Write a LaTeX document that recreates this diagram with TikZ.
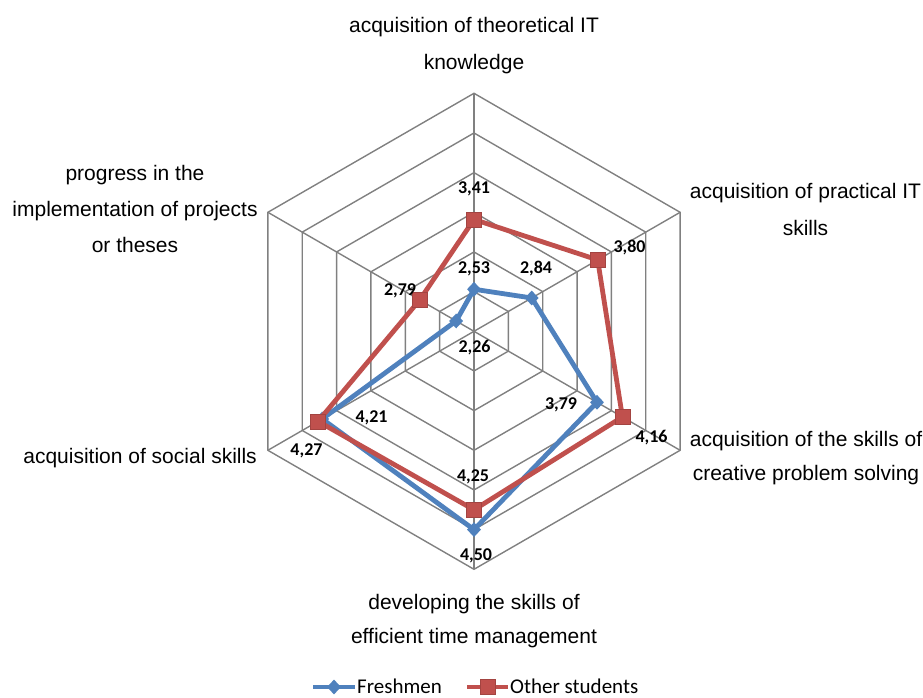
\documentclass[tikz,border=0pt]{standalone}
\usepackage{fontspec}
\setmainfont{Liberation Sans}
\newfontfamily\calib{Carlito}
\usetikzlibrary{shapes.geometric}
\definecolor{fblue}{HTML}{4F81BD}
\definecolor{ored}{HTML}{C0504D}
\definecolor{gridgray}{HTML}{808080}
\begin{document}
\begin{tikzpicture}[x=1pt,y=1pt,
  gridline/.style={draw=gridgray,line width=1.4pt},
  fline/.style={draw=fblue,line width=4.8pt,line join=round},
  oline/.style={draw=ored,line width=4.8pt,line join=round},
  fmark/.style={diamond,fill=fblue,inner sep=0pt,minimum width=14pt,minimum height=15pt},
  omark/.style={rectangle,fill=ored,draw=ored!85!black,line width=0.6pt,inner sep=0pt,minimum size=15pt},
  val/.style={font=\calib\bfseries\fontsize{18}{20}\selectfont,inner sep=0pt},
  cat/.style={font=\fontsize{21}{34}\selectfont,align=center,inner sep=0pt,anchor=base},
  catwide/.style={cat,font=\fontsize{21}{37}\selectfont},
  leg/.style={font=\calib\fontsize{21}{24}\selectfont,inner sep=0pt,anchor=base west}
]
\useasboundingbox (0,0) rectangle (923,697);
\coordinate (c) at (474,365.7);
\begin{scope}[shift={(c)}]
  % grid rings
  \foreach \k in {1,...,6} {
    \draw[gridline] (90:{\k*238/6}) -- (30:{\k*238/6}) -- (-30:{\k*238/6})
      -- (-90:{\k*238/6}) -- (-150:{\k*238/6}) -- (150:{\k*238/6}) -- cycle;
  }
  % outer vertices and spokes
  \coordinate (o) at (0,0);
  \coordinate (v1) at (90:238);
  \coordinate (v2) at (30:238);
  \coordinate (v3) at (-30:238);
  \coordinate (v4) at (-90:238);
  \coordinate (v5) at (-150:238);
  \coordinate (v6) at (150:238);
  \foreach \v in {v1,v2,v3,v4,v5,v6} \draw[gridline] (o) -- (\v);
  % data points
  \coordinate (f1) at (90:{(2.53-2)*238/3});
  \coordinate (f2) at (30:{(2.84-2)*238/3});
  \coordinate (f3) at (-30:{(3.79-2)*238/3});
  \coordinate (f4) at (-90:{(4.50-2)*238/3});
  \coordinate (f5) at (-150:{(4.21-2)*238/3});
  \coordinate (f6) at (150:{(2.26-2)*238/3});
  \coordinate (p1) at (90:{(3.41-2)*238/3});
  \coordinate (p2) at (30:{(3.80-2)*238/3});
  \coordinate (p3) at (-30:{(4.16-2)*238/3});
  \coordinate (p4) at (-90:{(4.25-2)*238/3});
  \coordinate (p5) at (-150:{(4.27-2)*238/3});
  \coordinate (p6) at (150:{(2.79-2)*238/3});
\end{scope}
% Freshmen series
\draw[fline] (f1) -- (f2) -- (f3) -- (f4) -- (f5) -- (f6) -- cycle;
\foreach \i in {1,...,6} \node[fmark] (fm\i) at (f\i) {};
% Other students series
\draw[oline] (p1) -- (p2) -- (p3) -- (p4) -- (p5) -- (p6) -- cycle;
\foreach \i in {1,...,6} \node[omark] (pm\i) at (p\i) {};
% value labels
\node[val] (l341) at (474,508) {3,41};
\node[val] (l253) at (474,428) {2,53};
\node[val] (l284) at (536,428) {2,84};
\node[val] (l226) at (474.5,349) {2,26};
\node[val] (l425) at (473,220) {4,25};
\node[val] (l450) at (476,141) {4,50};
\node[val] (l380) at (629.5,449) {3,80};
\node[val] (l379) at (561,292) {3,79};
\node[val] (l416) at (651.5,259) {4,16};
\node[val] (l421) at (371.5,279) {4,21};
\node[val] (l427) at (306.5,246.3) {4,27};
\node[val] (l279) at (400,406) {2,79};
% category labels (base = baseline of last line)
\node[catwide] (c1) at (474,627) {acquisition of theoretical IT\\knowledge};
\node[catwide] (c2) at (805.5,461) {acquisition of practical IT\\skills};
\node[cat] (c3) at (806,217) {acquisition of the skills of\\creative problem solving};
\node[cat] (c4) at (474,54) {developing the skills of\\efficient time management};
\node[cat,anchor=base east] (c5) at (257,234) {acquisition of social skills};
\node[cat,font=\fontsize{21}{36}\selectfont] (c6) at (135,444) {progress in the\\implementation of projects\\or theses};
% legend
\coordinate (la) at (313,10);
\coordinate (lb) at (355,10);
\draw[fline,line cap=butt] (la) -- (lb);
\node[fmark] (lgf) at (334,10) {};
\node[leg] (lf) at (357,4) {Freshmen};
\coordinate (lc) at (467,10);
\coordinate (ld) at (508,10);
\draw[oline,line cap=butt] (lc) -- (ld);
\node[omark] (lgo) at (488,10) {};
\node[leg] (lo) at (510,4) {Other students};
\end{tikzpicture}
\end{document}
